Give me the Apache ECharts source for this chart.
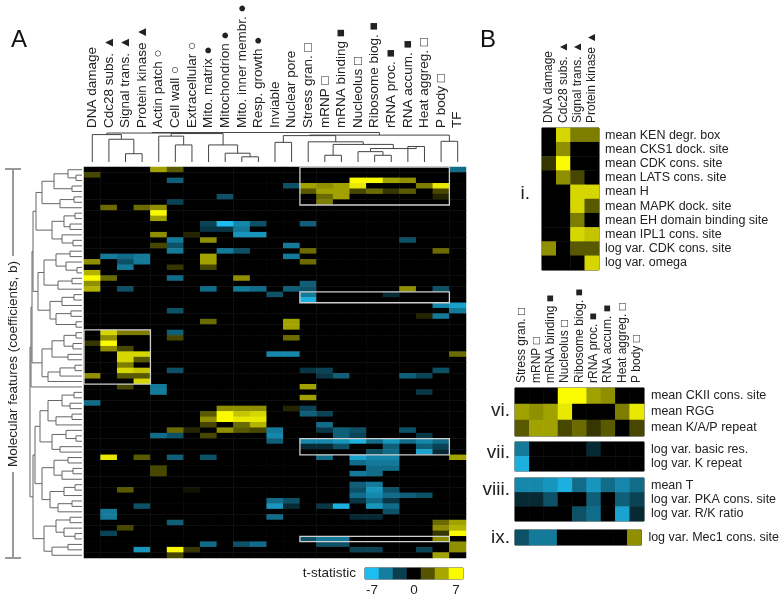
<!DOCTYPE html>
<html>
<head>
<meta charset="utf-8">
<script src="https://cdn.jsdelivr.net/npm/echarts@6/dist/echarts.min.js"></script>
<style>
    html, body { margin: 0; padding: 0; background: #fff; }
    #chart { width: 782px; height: 597px; }
</style>
</head>
<body>
<div id="chart"></div>
<script>
    // GO term columns of panel A
    const colNames = ['DNA damage', 'Cdc28 subs. ▲', 'Signal trans. ▲', 'Protein kinase ▲', 'Actin patch ○',
        'Cell wall ○', 'Extracellular ○', 'Mito. matrix ●', 'Mitochondrion ●', 'Mito. inner membr. ●',
        'Resp. growth ●', 'Inviable', 'Nuclear pore', 'Stress gran. □', 'mRNP □', 'mRNA binding ■',
        'Nucleolus □', 'Ribosome biog. ■', 'rRNA proc. ■', 'RNA accum. ■', 'Heat aggreg. □', 'P body □', 'TF']
    const nRows = 72

    // non-zero t-statistics outside the boxed blocks: [col, row, t]
    const cells = [
        [4, 0, 4.5], [5, 0, 2.5], [22, 0, -4], [0, 1, 2], [5, 2, -3.5], [12, 3, -3],
        [14, 5, 3], [15, 5, 4.5], [21, 5, 1], [8, 5, -3], [5, 6, -2.5], [14, 6, 3.5],
        [1, 7, 3], [3, 7, 3], [4, 7, 4], [4, 8, 7], [4, 9, 4.5],
        [7, 10, -2.5], [8, 10, -7], [9, 10, -5], [10, 10, -3], [13, 10, -3.5],
        [7, 11, -2], [8, 11, -2], [9, 11, -4.5],
        [4, 12, 4], [6, 12, 1], [9, 12, -5.5], [10, 12, -5.5],
        [5, 13, -4.5], [7, 13, 4], [19, 13, -3], [4, 14, 2], [5, 14, -3], [12, 14, -4.5],
        [5, 15, -4.5], [8, 15, -4.5], [9, 15, -3], [13, 15, 3], [21, 15, 3],
        [7, 16, 4.5], [1, 16, -4.5], [2, 16, -4], [3, 16, -4.5], [12, 16, -4.5],
        [7, 17, 4.5], [0, 17, 4], [2, 17, -3], [3, 17, -4.5], [13, 17, 3],
        [2, 18, -4.5], [5, 18, 1.5], [7, 18, 2],
        [0, 19, 5], [0, 20, 7], [1, 20, 3], [0, 21, 4], [0, 22, 5], [5, 20, -4], [9, 20, 4],
        [2, 22, -3], [7, 22, -4], [9, 22, -4.5], [10, 22, -4], [11, 23, -3],
        [13, 21, -3.5], [12, 22, -3.5], [13, 22, -3], [19, 22, 4], [21, 22, -3],
        [21, 25, -5], [22, 25, -6], [22, 26, -4.5], [21, 27, -4.5], [20, 27, 1],
        [5, 26, -3], [7, 28, 3], [12, 28, 4.5], [12, 29, 4.5],
        [5, 30, -3.5], [5, 31, 2], [12, 31, 3], [11, 34, -5], [12, 34, -5], [22, 34, 3],
        [5, 37, -3], [13, 37, -2], [14, 37, -2.5], [21, 37, -3],
        [14, 38, -2], [15, 38, -3.5], [19, 38, -3.5], [20, 38, -2.5],
        [2, 40, 2], [4, 40, -4.5], [4, 41, -4.5], [13, 40, 4.5], [13, 42, 4.5], [20, 41, -2], [0, 43, -4],
        [8, 44, 4], [9, 44, 4], [10, 44, 4], [12, 44, 1], [13, 44, -2.5],
        [7, 45, 2.5], [8, 45, 7], [9, 45, 5.5], [10, 45, 6], [13, 45, -3.5], [14, 45, -2.5],
        [7, 46, 4], [8, 46, 7], [9, 46, 6.5], [10, 46, 6.5],
        [7, 47, 2], [9, 47, 3], [10, 47, 5], [14, 47, -4],
        [8, 48, 4], [9, 48, 2.5], [10, 48, 2], [5, 48, 3], [6, 48, 1], [11, 48, -4.5],
        [14, 48, -2], [15, 48, -3.5], [16, 48, -3], [19, 48, -3],
        [7, 49, 2], [4, 49, -4], [5, 49, -3], [11, 49, -5], [15, 49, -3.5], [16, 49, -2.5], [20, 49, -2],
        [11, 50, -3.5],
        [1, 53, 6.5], [3, 53, 2.5], [5, 53, -3.5], [7, 53, -3], [14, 53, -4], [16, 53, -6],
        [17, 53, -5], [18, 53, -5], [22, 53, 4.5],
        [16, 54, -4], [17, 54, -4.5], [18, 54, -4.5], [4, 55, 2], [17, 55, -4], [18, 55, -4],
        [4, 56, 2], [16, 56, -4.5], [17, 56, -4],
        [16, 58, -3.5], [17, 58, -4.5], [2, 59, 2.5], [6, 59, 0.5], [16, 59, -3], [17, 59, -5.5], [18, 59, -3],
        [16, 60, -4], [17, 60, -5], [18, 60, -4], [19, 60, -3.5], [20, 60, -3],
        [11, 61, -4], [12, 61, -3], [16, 61, -2], [17, 61, -4], [18, 61, -2],
        [3, 62, -3], [11, 62, -5.5], [12, 62, -1.5], [14, 62, -2], [15, 62, -6.5], [17, 62, -5.5], [18, 62, -4],
        [1, 63, -4.5], [18, 63, -3], [1, 64, -4.5], [11, 64, -4], [16, 64, -1.5], [17, 64, -1.5],
        [5, 65, -3.5], [21, 65, 3], [22, 65, 4.5], [2, 66, 2], [21, 66, 4], [22, 66, 5],
        [1, 67, -2.5], [21, 67, 1.5], [22, 67, 7],
        [7, 69, -4], [9, 69, -3], [10, 69, -4], [14, 69, -3], [15, 69, -3], [22, 69, 4],
        [3, 70, -5.5], [5, 70, 7], [6, 70, 1.5], [16, 70, -2.5], [17, 70, -2.5], [20, 70, -2.5], [22, 70, 4],
        [5, 71, 2], [21, 71, 4.5]
    ]

    // block i : rows 30-39, columns DNA damage .. Protein kinase
    const featI = ['mean KEN degr. box', 'mean CKS1 dock. site', 'mean CDK cons. site', 'mean LATS cons. site',
        'mean H', 'mean MAPK dock. site', 'mean EH domain binding site', 'mean IPL1 cons. site',
        'log var. CDK cons. site', 'log var. omega']
    const valsI = [
        [0, 6, 3.5, 3.5], [0, 4, 0, 0], [1.5, 7, 0, 0], [0, 4, 2, 0], [0, 0, 6, 6],
        [0, 0, 6, 2.5], [0, 0, 3.5, 0], [0, 0, 6, 5.5], [4, 0, 2.5, 2.5], [0, 0, 0, 6]
    ]
    // blocks vi - ix : columns Stress gran. .. P body
    const featVi = ['mean CKII cons. site', 'mean RGG', 'mean K/A/P repeat']
    const valsVi = [
        [0, 0, 0, 7, 7, 4.5, 4, 0, 0],
        [4.5, 4, 4.5, 6.5, 0, 0, 0, 3.5, 6.5],
        [2.5, 4.5, 4.5, 2, 3, 1.5, 2.5, 0, 2]
    ]
    const featVii = ['log var. basic res.', 'log var. K repeat']
    const valsVii = [
        [-4.5, 0, 0, 0, 0, -1.5, 0, 0, 0],
        [-6.5, 0, 0, 0, 0, 0, 0, 0, 0]
    ]
    const featViii = ['mean T', 'log var. PKA cons. site', 'log var. R/K ratio']
    const valsViii = [
        [-5, -5, -5.5, -6.5, -4, -5.5, -4, -5, -4],
        [-1.5, -1.5, -3, 0, 0, -3.5, 0, -3.5, -2.5],
        [0, 0, 0, 0, -3, -4, 0, -6, -1.5]
    ]
    const featIx = ['log var. Mec1 cons. site']
    const valsIx = [[-3, -4.5, -4.5, 0, 0, 0, 0, 0, 4]]

    // dendrograms: [height, left, right], leaves are indices
    const colTree = [28.5,
        [28, [26.5, 0, [22, 1, [8, 2, 3]]], [27.5, [25, 4, [16.5, 5, 6]], [16.5, 7, [8.5, 8, [5, 9, 10]]]]],
        [26, [25.5, [19, 11, 12], [19.5, 13, [17, [6.5, 14, 15], [13, [10, 16, [6.5, 17, 18]], [15, 19, 20]]]]], [20, 21, 22]]
    ]
    const rowTree = [52,
        [51,
            [50,
                [49,
                    [46,
                        [40, [28, [14, 0, [6, 1, 2]], [10, 3, 4]], [22, [8, 5, 6], 7]],
                        [30, [18, [7, 8, 9], [12, 10, 11]], [20, 12, [9, 13, 14]]]],
                    [44,
                        [38, [26, [12, 15, 16], [16, 17, [5, 18, 19]]], [24, [10, 20, 21], 22]],
                        [32, [20, [8, 23, 24], 25], [26, [11, 26, 27], [6, 28, 29]]]]],
                [40, [30, [18, [6, 30, 31], [9, 32, 33]], [14, 34, 35]], [34, [22, [7, 36, 37], 38], 39]]],
            40],
        [49,
            [47,
                [42, [34, [20, [8, 41, 42], [12, 43, 44]], [26, [10, 45, 46], 47]], [30, [16, 48, [6, 49, 50]], [22, 51, 52]]],
                [40, [28, [14, 53, 54], [20, [9, 55, 56], 57]], [32, [18, [7, 58, 59], 60], [24, [10, 61, 62], 63]]]],
            [38, [26, [12, 64, 65], [18, 66, [7, 67, 68]]], [30, [14, 69, 70], 71]]]
    ]

    const legendSteps = [-7, -4.67, -2.33, 0, 2.33, 4.67, 7]
    const legendLabels = ['-7', '', '', '0', '', '', '7']

    // 拼出完整矩阵
    let mat = []
    for (let r = 0; r < nRows; r++) mat.push(new Array(colNames.length).fill(0))
    cells.forEach(c => { mat[c[1]][c[0]] = c[2] })
    const blocks = [
        { r0: 30, c0: 0, vals: valsI },
        { r0: 2, c0: 13, vals: valsVi },
        { r0: 23, c0: 13, vals: valsVii },
        { r0: 50, c0: 13, vals: valsViii },
        { r0: 68, c0: 13, vals: valsIx }
    ]
    blocks.forEach(b => {
        b.vals.forEach((row, i) => row.forEach((v, j) => { mat[b.r0 + i][b.c0 + j] = v }))
    })

    function toHeat (vals) {
        let out = []
        vals.forEach((row, r) => row.forEach((v, c) => out.push([c, r, v])))
        return out
    }

    // 树状图线段
    function dendro (node, segs, horiz) {
        if (typeof node === 'number') return { pos: node + 0.5, h: 0 }
        const a = dendro(node[1], segs, horiz)
        const b = dendro(node[2], segs, horiz)
        const h = node[0]
        let pts = [[a.pos, a.h], [a.pos, h], [b.pos, h], [b.pos, b.h]]
        if (horiz) pts = pts.map(p => [p[1], p[0]])
        segs.push({ coords: pts })
        return { pos: (a.pos + b.pos) / 2, h: h }
    }
    const colSegs = []
    dendro(colTree, colSegs, false)
    const rowSegs = []
    dendro(rowTree, rowSegs, true)

    const font = 'Liberation Sans, Arial, sans-serif'
    const txt = '#222'
    const hidden = { show: false }

    function catAxis (grid, data, extra) {
        return Object.assign({
            type: 'category', gridIndex: grid, data: data,
            axisLine: hidden, axisTick: hidden, splitLine: hidden,
            axisLabel: { show: false }
        }, extra || {})
    }
    function labels (size, margin, rotate) {
        return { show: true, interval: 0, fontSize: size, fontFamily: font, color: txt, margin: margin, rotate: rotate || 0 }
    }

    const chart = echarts.init(document.getElementById('chart'), null, { renderer: 'canvas' })

    const grids = [
        { left: 84, top: 167, width: 382, height: 391 },                                        // 0 main
        { left: 84, top: 132, width: 382, height: 30 },                                         // 1 col dendrogram
        { left: 30, top: 167, width: 52, height: 391 },                                         // 2 row dendrogram
        { left: 365, top: 568, width: 98, height: 12, show: true, borderColor: '#333', borderWidth: 1 }, // 3 legend
        { left: 542, top: 128, width: 57, height: 142, show: true, borderColor: '#333', borderWidth: 1 },  // 4 B i
        { left: 515, top: 388, width: 129, height: 48, show: true, borderColor: '#333', borderWidth: 1 },  // 5 B vi
        { left: 515, top: 442, width: 129, height: 29, show: true, borderColor: '#333', borderWidth: 1 },  // 6 B vii
        { left: 515, top: 478, width: 129, height: 43, show: true, borderColor: '#333', borderWidth: 1 },  // 7 B viii
        { left: 515, top: 530, width: 129, height: 15, show: true, borderColor: '#333', borderWidth: 1 }   // 8 B ix
    ]
    const subCols = colNames.slice(13, 22)

    const xAxes = [
        catAxis(0, colNames, { position: 'top', axisLabel: labels(13.5, 39, -90) }),
        { type: 'value', gridIndex: 1, min: 0, max: colNames.length, show: false },
        { type: 'value', gridIndex: 2, min: 0, max: 52, inverse: true, show: false },
        catAxis(3, legendLabels, { position: 'bottom', axisLabel: labels(13.5, 4) }),
        catAxis(4, colNames.slice(0, 4), { position: 'top', axisLabel: labels(12, 5, -90) }),
        catAxis(5, subCols, { position: 'top', axisLabel: labels(12, 5, -90) }),
        catAxis(6, subCols),
        catAxis(7, subCols),
        catAxis(8, subCols)
    ]
    const rowIdx = []
    for (let r = 0; r < nRows; r++) rowIdx.push(String(r))
    const yAxes = [
        catAxis(0, rowIdx, { inverse: true }),
        { type: 'value', gridIndex: 1, min: 0, max: 29, show: false },
        { type: 'value', gridIndex: 2, min: 0, max: nRows, inverse: true, show: false },
        catAxis(3, ['t-statistic'], { axisLabel: labels(13.5, 9) }),
        catAxis(4, featI, { inverse: true, position: 'right', axisLabel: labels(12.5, 6) }),
        catAxis(5, featVi, { inverse: true, position: 'right', axisLabel: labels(12.5, 7) }),
        catAxis(6, featVii, { inverse: true, position: 'right', axisLabel: labels(12.5, 7) }),
        catAxis(7, featViii, { inverse: true, position: 'right', axisLabel: labels(12.5, 7) }),
        catAxis(8, featIx, { inverse: true, position: 'right', axisLabel: labels(12.5, 7) })
    ]

    function heat (idx, data) {
        return {
            type: 'heatmap', xAxisIndex: idx, yAxisIndex: idx, data: data,
            itemStyle: { borderWidth: 0 }, emphasis: { disabled: true }, silent: true, progressive: 0
        }
    }

    const mainData = toHeat(mat)
    const boxRects = [[13, 0, 21, 6], [13, 23, 21, 24], [0, 30, 3, 39], [13, 50, 21, 52], [13, 68, 21, 68]]

    const series = [
        heat(0, mainData),
        heat(3, legendSteps.map((v, i) => [i, 0, v])),
        heat(4, toHeat(valsI)),
        heat(5, toHeat(valsVi)),
        heat(6, toHeat(valsVii)),
        heat(7, toHeat(valsViii)),
        heat(8, toHeat(valsIx)),
        {
            type: 'lines', coordinateSystem: 'cartesian2d', xAxisIndex: 1, yAxisIndex: 1, polyline: true,
            silent: true, data: colSegs, lineStyle: { color: '#444', width: 1, opacity: 1 }
        },
        {
            type: 'lines', coordinateSystem: 'cartesian2d', xAxisIndex: 2, yAxisIndex: 2, polyline: true,
            silent: true, data: rowSegs, lineStyle: { color: '#666', width: 1, opacity: 1 }
        },
        {
            type: 'custom', xAxisIndex: 0, yAxisIndex: 0, silent: true, data: boxRects,
            encode: { x: [0, 2], y: [1, 3] },
            renderItem: function (params, api) {
                const p0 = api.coord([api.value(0), api.value(1)])
                const p1 = api.coord([api.value(2), api.value(3)])
                const s = api.size([1, 1])
                return {
                    type: 'rect',
                    shape: { x: p0[0] - s[0] / 2, y: p0[1] - s[1] / 2, width: p1[0] - p0[0] + s[0], height: p1[1] - p0[1] + s[1] },
                    style: { fill: 'none', stroke: '#d0d0d0', lineWidth: 1.3 }
                }
            }
        }
    ]

    function tag (text, x, y, size, color, align) {
        return {
            type: 'text', x: x, y: y, silent: true,
            style: { text: text, fill: color || '#fff', font: size + 'px ' + font, align: align || 'left', verticalAlign: 'middle' }
        }
    }

    const graphic = [
        tag('A', 11, 40, 24, '#111'),
        tag('B', 480, 40, 24, '#111'),
        { type: 'line', silent: true, shape: { x1: 13, y1: 169, x2: 13, y2: 558 }, style: { stroke: '#999', lineWidth: 2 } },
        { type: 'line', silent: true, shape: { x1: 5, y1: 169, x2: 21, y2: 169 }, style: { stroke: '#999', lineWidth: 2 } },
        { type: 'line', silent: true, shape: { x1: 5, y1: 558, x2: 21, y2: 558 }, style: { stroke: '#999', lineWidth: 2 } },
        {
            type: 'text', x: 13, y: 364, rotation: Math.PI / 2, silent: true,
            style: {
                text: 'Molecular features (coefficients, b)', fill: '#222', font: '13.5px ' + font,
                align: 'center', verticalAlign: 'middle', backgroundColor: '#fff', padding: [0, 5]
            }
        },
        // panel A block labels
        tag('ii.', 86, 250, 17), tag('iv.', 169, 215, 17), tag('i.', 158, 355, 17), tag('iii.', 246, 355, 17),
        tag('v.', 270, 421, 17), tag('vi.', 338, 217, 17), tag('vii.', 315, 314, 17), tag('viii.', 284, 464, 17),
        tag('ix.', 280, 539, 17),
        // panel B block labels
        tag('i.', 530, 194, 19, '#222', 'right'), tag('vi.', 510, 411, 19, '#222', 'right'),
        tag('vii.', 510, 453, 19, '#222', 'right'), tag('viii.', 510, 490, 19, '#222', 'right'),
        tag('ix.', 510, 538, 19, '#222', 'right')
    ]

    chart.setOption({
        backgroundColor: '#fff',
        animation: false,
        grid: grids,
        xAxis: xAxes,
        yAxis: yAxes,
        visualMap: {
            type: 'continuous', show: false, min: -7, max: 7, seriesIndex: [0, 1, 2, 3, 4, 5, 6],
            inRange: { color: ['#1ebdf0', '#000000', '#fafa00'] }
        },
        series: series,
        graphic: graphic
    })
</script>
</body>
</html>
